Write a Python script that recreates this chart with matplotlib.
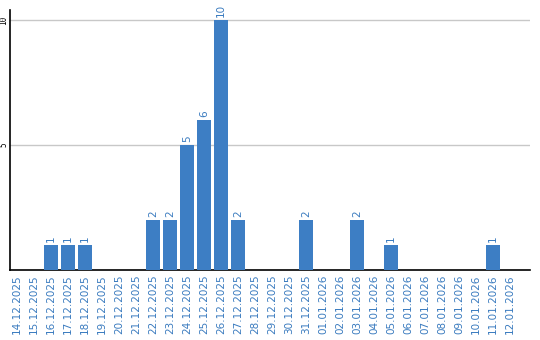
import matplotlib
matplotlib.use("Agg")
import matplotlib.pyplot as plt

dates = ["14.12.2025","15.12.2025","16.12.2025","17.12.2025","18.12.2025","19.12.2025",
         "20.12.2025","21.12.2025","22.12.2025","23.12.2025","24.12.2025","25.12.2025",
         "26.12.2025","27.12.2025","28.12.2025","29.12.2025","30.12.2025","31.12.2025",
         "01.01.2026","02.01.2026","03.01.2026","04.01.2026","05.01.2026","06.01.2026",
         "07.01.2026","08.01.2026","09.01.2026","10.01.2026","11.01.2026","12.01.2026"]
values = [0,0,1,1,1,0,0,0,2,2,5,6,10,2,0,0,0,2,0,0,2,0,1,0,0,0,0,0,1,0]
yticks = [5, 10]

bar_color = "#3d7ec4"
text_color = "#3a7bbf"

fig = plt.figure(figsize=(5.4, 3.4), dpi=100)
ax = fig.add_axes([10/540, 70/340, 520/540, 260/340])
x = list(range(len(dates)))
ax.bar(x, values, width=0.82, color=bar_color, zorder=3)
for xi, v in zip(x, values):
    if v > 0:
        ax.text(xi, v + 0.12, str(v), rotation=90, ha="center", va="bottom",
                fontsize=7.5, color=text_color)
ax.set_xlim(-0.41, 30.18)
ax.set_ylim(0, 10.4)
ax.set_yticks(yticks)
ax.set_yticklabels([str(t) for t in yticks], rotation=90, va="center", fontsize=5.5,
                   family="DejaVu Sans Mono")
ax.set_xticks(x)
ax.set_xticklabels(dates, rotation=90, fontsize=7.5, color=text_color)
ax.tick_params(axis="x", length=0, pad=3)
ax.tick_params(axis="y", length=0, pad=1)
ax.grid(axis="y", color="#c8c8c8", linewidth=1, zorder=0)
for s in ["top", "right"]:
    ax.spines[s].set_visible(False)
ax.spines["left"].set_color("black")
ax.spines["bottom"].set_color("black")
ax.spines["left"].set_linewidth(1.2)
ax.spines["bottom"].set_linewidth(1.2)
fig.savefig("out.png", dpi=100)
